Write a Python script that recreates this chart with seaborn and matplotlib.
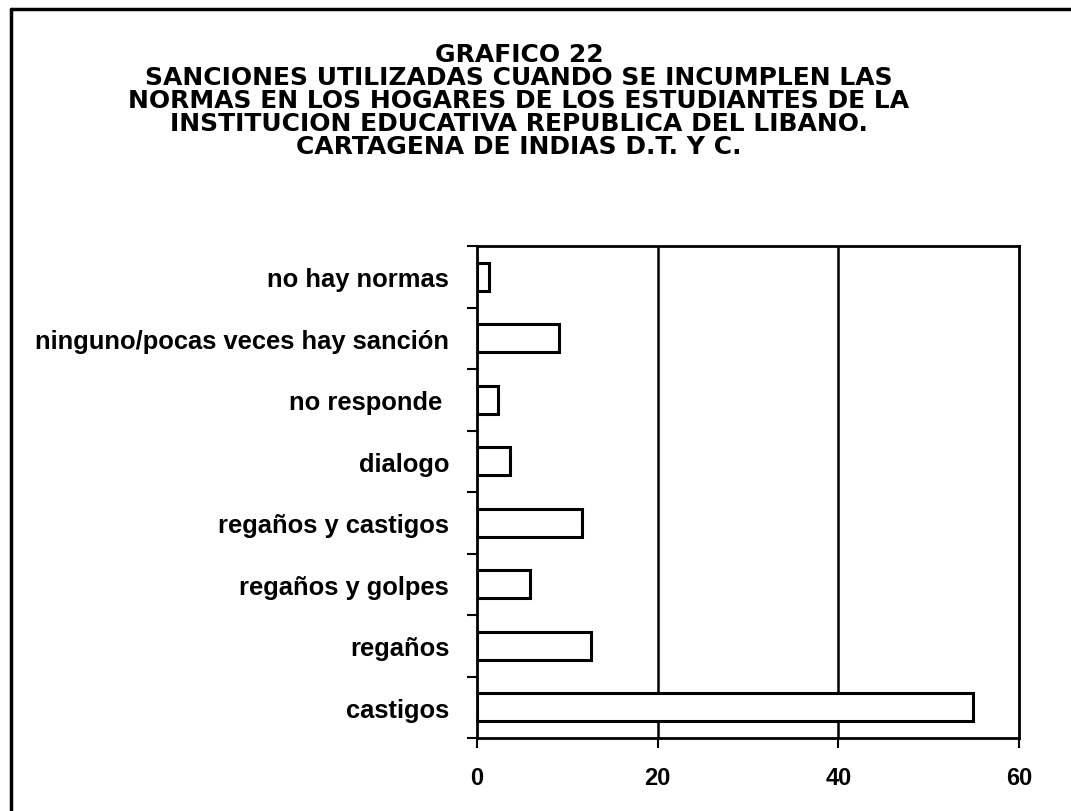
import matplotlib
matplotlib.use("Agg")
import matplotlib.pyplot as plt
import seaborn as sns
import pandas as pd
from matplotlib.lines import Line2D
from matplotlib.ticker import FixedLocator

# datos (porcentajes)
categorias = ["no hay normas", "ninguno/pocas veces hay sanción", "no responde ",
              "dialogo", "regaños y castigos", "regaños y golpes", "regaños", "castigos"]
valores = [1.3, 9.1, 2.3, 3.6, 11.6, 5.9, 12.6, 54.9]
ticks_x = [0, 20, 40, 60]

titulo = ("GRAFICO 22\n"
          "SANCIONES UTILIZADAS CUANDO SE INCUMPLEN LAS\n"
          "NORMAS EN LOS HOGARES DE LOS ESTUDIANTES DE LA\n"
          "INSTITUCION EDUCATIVA REPUBLICA DEL LIBANO.\n"
          "CARTAGENA DE INDIAS D.T. Y C.")

sns.set_style("white")
plt.rcParams["font.family"] = ["Liberation Sans", "DejaVu Sans"]
plt.rcParams["text.color"] = "black"
plt.rcParams["xtick.color"] = "black"
plt.rcParams["ytick.color"] = "black"

df = pd.DataFrame({"sancion": categorias, "valor": valores})

fig = plt.figure(figsize=(10.71, 8.12), dpi=100)
ax = fig.add_axes([477 / 1071, 73 / 812, 542 / 1071, 492 / 812])

sns.barplot(data=df, x="valor", y="sancion", order=categorias, orient="h",
            color="white", edgecolor="black", linewidth=2.2, width=0.45,
            saturation=1, ax=ax)

ax.set_xlim(0, 60)
ax.set_ylim(len(categorias) - 0.5, -0.5)
ax.set_xticks(ticks_x)
ax.set_xticklabels([str(t) for t in ticks_x], fontsize=17, fontweight="bold")
ax.set_yticks(range(len(categorias)))
ax.set_yticklabels(categorias, fontsize=18.4, fontweight="bold")
ax.set_xlabel("")
ax.set_ylabel("")

# marcas del eje y entre categorias
ax.yaxis.set_minor_locator(FixedLocator([i - 0.5 for i in range(len(categorias) + 1)]))
ax.tick_params(axis="y", which="major", length=0, pad=20)
ax.tick_params(axis="y", which="minor", length=7, width=1.5, color="black", left=True)
ax.tick_params(axis="x", which="major", length=7, width=1.5, color="black", pad=13,
               bottom=True)

for x in ticks_x[1:-1]:
    ax.axvline(x, color="black", linewidth=1.8, zorder=0)

for s in ax.spines.values():
    s.set_visible(True)
    s.set_color("black")
    s.set_linewidth(2)

fig.text(519 / 1071, 1 - 101 / 812, titulo, ha="center", va="center",
         fontsize=18, fontweight="bold", linespacing=0.95,
         family=["DejaVu Sans"])

# marco exterior (solo borde superior e izquierdo visibles)
fig.add_artist(Line2D([11 / 1071, 1], [1 - 10 / 812, 1 - 10 / 812],
                      transform=fig.transFigure, color="black", linewidth=2.5))
fig.add_artist(Line2D([11 / 1071, 11 / 1071], [0, 1 - 10 / 812],
                      transform=fig.transFigure, color="black", linewidth=2.5))

fig.savefig("out.png", dpi=100)
